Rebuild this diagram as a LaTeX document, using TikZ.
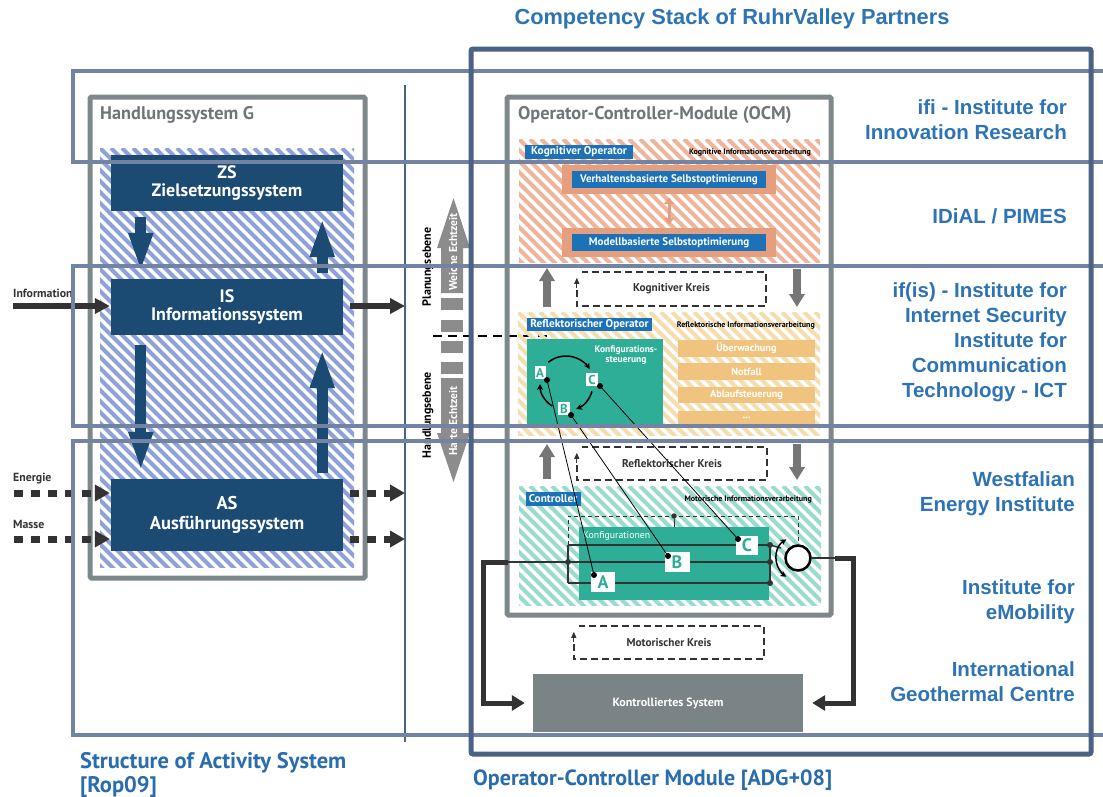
\documentclass[tikz,border=0pt]{standalone}
\usepackage{fontspec}
\setmainfont{PT Sans}
\newfontfamily\arialf{Liberation Sans}
\usetikzlibrary{arrows.meta,calc}
\definecolor{navy}{HTML}{1B4A73}
\definecolor{hatchblue}{HTML}{8FA2D8}
\definecolor{bandc}{HTML}{7383A3}
\definecolor{darkframe}{HTML}{4A6283}
\definecolor{grayframe}{HTML}{7E888B}
\definecolor{graytitle}{HTML}{6F7678}
\definecolor{lblue}{HTML}{1C72B8}
\definecolor{tealbox}{HTML}{2EAE96}
\definecolor{tealhatch}{HTML}{9BDBCD}
\definecolor{salmonhatch}{HTML}{EFB59A}
\definecolor{salmonbox}{HTML}{E59F7E}
\definecolor{orangehatch}{HTML}{F6DDB0}
\definecolor{orangebox}{HTML}{F0C47F}
\definecolor{midgray}{HTML}{8C8C8C}
\definecolor{arrowgray}{HTML}{767676}
\definecolor{instblue}{HTML}{2E74B5}
\definecolor{darkline}{HTML}{333333}
\definecolor{ksys}{HTML}{7A8386}
\definecolor{captblue}{HTML}{2A6DAE}
\newcommand{\fsz}[1]{\fontsize{#1}{#1}\selectfont}
\newcommand{\hatchrect}[5]{%
  \begin{scope}
    \clip (#1,#2) rectangle (#3,#4);
    \foreach \s in {-704,-693,...,420} {\draw[color=#5, line width=4pt] ({#1+\s},#2) -- ++(710,710);}
  \end{scope}}
\tikzset{
  grayframebox/.style={draw=grayframe, line width=5pt, rounded corners=1.5pt, inner sep=0},
  band/.style={draw=bandc, line width=3.5pt},
  navybox/.style={fill=navy, text=white, inner sep=0, align=center, minimum width=232pt},
  navyarr/.style={draw=navy, line width=11pt, -{Triangle[width=22pt,length=40pt]}},
  grayarr/.style={draw=darkline, line width=6pt, -{Triangle[width=15pt,length=15pt]}},
  dgrayarr/.style={draw=darkline, line width=7pt, dash pattern=on 9pt off 8pt, -{Triangle[width=16pt,length=15pt]}},
  smalllbl/.style={text=darkline, font=\bfseries\fsz{11.8}, inner sep=0},
  oplabel/.style={fill=lblue, text=white, font=\bfseries\fsz{11.3}, inner sep=0},
  infotext/.style={anchor=east, inner sep=0, font=\bfseries\fsz{8}, text=black},
  sbox/.style={fill=salmonbox, minimum width=214pt, minimum height=29pt, inner sep=0},
  innerblue/.style={fill=lblue, text=white, font=\bfseries\fsz{11}, minimum width=194pt, minimum height=17pt, inner sep=0},
  vgarr/.style={draw=arrowgray, line width=8pt, -{Triangle[width=15pt,length=13pt]}},
  kreis/.style={draw=darkline, line width=1.8pt, dash pattern=on 7pt off 4pt},
  kreistext/.style={font=\bfseries\fsz{11.3}, text=darkline, inner sep=0},
  smallup/.style={draw=darkline, line width=1.2pt, -{Triangle[width=5pt,length=6pt]}},
  obox/.style={fill=orangebox, text=white, font=\bfseries\fsz{10.3}, minimum width=137pt, inner sep=0},
  letter/.style={fill=white, text=tealbox, font=\bfseries\fsz{13}, inner sep=0},
  bigletter/.style={fill=white, text=tealbox, font=\bfseries\fsz{18}, inner sep=0},
  dot/.style={circle, fill=black, inner sep=0, minimum size=6pt},
  wdot/.style={circle, fill=darkline, inner sep=0, minimum size=6pt},
  wire/.style={draw=darkline, line width=1.5pt},
  cycarr/.style={draw=black, line width=1.5pt, -{Stealth[length=6pt,width=6pt]}},
  thickarr/.style={draw=darkline, line width=5pt, -{Triangle[width=15pt,length=13pt]}},
  inst/.style={anchor=east, align=right, text=instblue, font=\arialf\bfseries\fontsize{20.5}{25}\selectfont, inner sep=0},
  capt/.style={anchor=base west, text=captblue, font=\bfseries\fsz{22.5}, inner sep=0},
}
\begin{document}
\begin{tikzpicture}[x=1pt,y=-1pt]
\fill[white] (0,0) rectangle (1103,796);
\useasboundingbox (0,0) rectangle (1103,796);

% ---------- Left: Handlungssystem G
\node[grayframebox, minimum width=275pt, minimum height=481pt] (hsys) at (227.5,337.5) {};
\node[anchor=west, inner sep=0, text=graytitle, font=\bfseries\fsz{18.3}] (hsystitle) at (100,115) {Handlungssystem G};
\hatchrect{100}{148}{354}{567}{hatchblue}
\node[navybox, minimum height=56pt, font=\bfseries\fontsize{18}{18.5}\selectfont] (zs) at (227,183) {ZS\\Zielsetzungssystem};
\node[navybox, minimum height=56pt, font=\bfseries\fontsize{18}{18.5}\selectfont] (is) at (227,307) {IS\\Informationssystem};
\node[navybox, minimum height=72pt, font=\bfseries\fontsize{18.5}{19.5}\selectfont] (as) at (227,515) {AS\\Ausführungssystem};
\draw[navyarr] ([xshift=30pt,yshift=-6pt]zs.south west) -- ([xshift=30pt,yshift=6pt]is.north west);
\draw[navyarr] ([xshift=-21pt,yshift=6pt]is.north east) -- ([xshift=-21pt,yshift=-6pt]zs.south east);
\draw[navyarr] ([xshift=30pt,yshift=-10pt]is.south west) -- ([xshift=30pt,yshift=7pt]as.north west);
\draw[navyarr] ([xshift=-21pt,yshift=6pt]as.north east) -- ([xshift=-21pt,yshift=-13pt]is.south east);

\coordinate (infoin) at (13,306);
\coordinate (isout) at (405,306);
\coordinate (enin) at (14,493);
\coordinate (enout) at (405,493);
\coordinate (main) at (14,539);
\coordinate (maout) at (405,539);
\node[smalllbl, anchor=base west] (infolbl) at (13,297) {Information};
\node[smalllbl, anchor=base west] (enlbl) at (13,481) {Energie};
\node[smalllbl, anchor=base west] (malbl) at (13,528) {Masse};
\draw[grayarr] (infoin) -- ($(is.west |- infoin)+(-1,0)$);
\draw[grayarr] ($(is.east |- isout)+(7,0)$) -- (isout);
\draw[dgrayarr] (enin) -- ($(as.west |- enin)+(-1,0)$);
\draw[dgrayarr] (main) -- ($(as.west |- main)+(-1,0)$);
\draw[dgrayarr] ($(as.east |- enout)+(7,0)$) -- (enout);
\draw[dgrayarr] ($(as.east |- maout)+(7,0)$) -- (maout);

% ---------- Middle
\draw[darkframe, line width=2pt] (405,85) -- (405,742);
\fill[midgray] (441,293) -- (441,248) -- (437,248) -- (453.5,198) -- (470,248) -- (463,248) -- (463,293) -- cycle;
\foreach \ya in {298,320,341,362} {\fill[midgray] (441,\ya) rectangle (463,{\ya+11.5});}
\fill[midgray] (441,378) -- (441,433) -- (437,433) -- (453.5,482) -- (470,433) -- (463,433) -- (463,378) -- cycle;
\node[rotate=90, text=white, font=\bfseries\fsz{11.5}, inner sep=0] (weich) at (453,252) {Weiche Echtzeit};
\node[rotate=90, text=white, font=\bfseries\fsz{11.5}, inner sep=0] (hart) at (453,421) {Harte Echtzeit};
\node[rotate=90, text=black, font=\bfseries\fsz{12}, inner sep=0] (plan) at (428,267) {Planungsebene};
\node[rotate=90, text=black, font=\bfseries\fsz{12}, inner sep=0] (handl) at (428,415) {Handlungsebene};
\draw[black, line width=2pt, dash pattern=on 9pt off 6pt] (433,336) -- (555,336);

% ---------- OCM
\node[grayframebox, minimum width=324pt, minimum height=518pt] (ocm) at (669,356) {};
\node[anchor=west, inner sep=0, text=graytitle, font=\bfseries\fsz{18.3}] (ocmtitle) at (518,115) {Operator-Controller-Module (OCM)};

% Kognitiver Operator
\hatchrect{519}{139}{820}{262}{salmonhatch}
\node[oplabel, minimum width=108pt, minimum height=14pt] (kogop) at (579,152) {Kognitiver Operator};
\node[infotext] (koginfo) at (811,152) {Kognitive Informationsverarbeitung};
\node[sbox] (vsb) at (669,179.5) {};
\node[innerblue] (vs) at (669,179.5) {Verhaltensbasierte Selbstoptimierung};
\node[sbox] (msb) at (669,242.5) {};
\node[innerblue] (ms) at (669,242.5) {Modellbasierte Selbstoptimierung};
\draw[salmonbox, line width=3pt, {Triangle[width=10pt,length=7pt]}-{Triangle[width=10pt,length=7pt]}] ([yshift=-3pt]vsb.south) -- ([yshift=3pt]msb.north);

% Kognitiver Kreis
\node[minimum width=189pt, minimum height=34pt, inner sep=0] (kk) at (671.5,289) {};
\draw[kreis] ([yshift=-18pt]kk.north west) -- (kk.south west) -- (kk.south east) -- (kk.north east) -- ([xshift=5pt]kk.north west);
\draw[smallup] ([yshift=-16pt]kk.north west) -- ([yshift=-6pt]kk.north west);
\node[kreistext] (kktext) at (kk.center) {Kognitiver Kreis};
\draw[vgarr] (547,307) -- (547,268);
\draw[vgarr] (797,269) -- (797,307);

% Reflektorischer Operator
\hatchrect{518}{312}{820}{435}{orangehatch}
\node[oplabel, minimum width=125pt, minimum height=13pt] (refop) at (589.5,324.5) {Reflektorischer Operator};
\node[infotext] (refinfo) at (815,325) {Reflektorische Informationsverarbeitung};
\node[fill=tealbox, minimum width=136pt, minimum height=85pt, inner sep=0] (konfst) at (595,381.5) {};
\node[text=white, font=\bfseries\fontsize{9.5}{10}\selectfont, align=center, inner sep=0] (konfsttext) at (626,355) {Konfigurations-\\steuerung};
\node[letter, minimum width=11pt, minimum height=13pt] (rA) at (540,372.5) {A};
\node[letter, minimum width=12pt, minimum height=13pt] (rC) at (592,379.5) {C};
\node[letter, minimum width=12pt, minimum height=13pt] (rB) at (564,408.5) {B};
\coordinate (cyc) at (566,384);
\draw[cycarr] ($(cyc)+(-129:28)$) arc[start angle=-129, end angle=-32, radius=28];
\draw[cycarr] ($(cyc)+(16:27)$) arc[start angle=16, end angle=68, radius=27];
\draw[cycarr] ($(cyc)+(122:26)$) arc[start angle=122, end angle=180, radius=26];
\node[obox, minimum height=17pt] (ueb) at (746.5,348.5) {Überwachung};
\node[obox, minimum height=17pt] (notf) at (746.5,371.5) {Notfall};
\node[obox, minimum height=16pt] (ablauf) at (746.5,395) {Ablaufsteuerung};
\node[obox, minimum height=13pt] (more) at (746.5,417.5) {...};

% Reflektorischer Kreis
\node[minimum width=190pt, minimum height=33pt, inner sep=0] (rk) at (672,463.5) {};
\draw[kreis] ([yshift=-18pt]rk.north west) -- (rk.south west) -- (rk.south east) -- (rk.north east) -- ([xshift=5pt]rk.north west);
\draw[smallup] ([yshift=-16pt]rk.north west) -- ([yshift=-6pt]rk.north west);
\node[kreistext] (rktext) at (rk.center) {Reflektorischer Kreis};
\draw[vgarr] (547,479) -- (547,444);
\draw[vgarr] (797,444) -- (797,480);

% Controller
\hatchrect{519}{486}{821}{605}{tealhatch}
\node[oplabel, minimum width=55pt, minimum height=14pt] (ctrl) at (553,498.5) {Controller};
\node[infotext] (ctrlinfo) at (812,499) {Motorische Informationsverarbeitung};
\node[fill=tealbox, minimum width=190pt, minimum height=73pt, inner sep=0] (konf) at (674,563.5) {};
\node[anchor=west, text=white, font=\fsz{9.8}, inner sep=0] (konftext) at (583,536) {Konfigurationen};
\node[circle, draw=black, fill=white, line width=2.5pt, minimum size=25pt, inner sep=0] (sw) at (798,558) {};
\draw[darkline, line width=1pt, dash pattern=on 4pt off 3pt] (568,545) -- (568,516) -- (798,516) -- (sw.north);
\node[wdot, minimum size=5.5pt] (topdot) at (674,516) {};
\draw[darkline, line width=1pt] (topdot) -- (konf.north);
\coordinate (wl1) at (568,545);
\coordinate (wl2) at (568,562);
\coordinate (wl3) at (568,583);
\node[wdot] (wr1) at (770,545) {};
\node[wdot] (wr2) at (770,562) {};
\node[wdot] (wr3) at (770,583) {};
\draw[wire] (wl1) -- (wr1.center);
\draw[wire] (508,562) -- (wr2.center);
\draw[wire] (wl3) -- (wr3.center);
\draw[wire] (wl1) -- (wl3);
\draw[wire] (wr1.center) -- (wr3.center);
\draw[wire] (wr1.center) -- (781,548);
\node[wdot] (wldot) at (wl2) {};
\node[bigletter, minimum width=22pt, minimum height=19pt] (kC) at (747,545) {C};
\node[bigletter, minimum width=25pt, minimum height=20pt] (kB) at (677,562) {B};
\node[bigletter, minimum width=24pt, minimum height=20pt] (kA) at (603,582) {A};
\draw[black, line width=1.5pt, {Stealth[length=6pt,width=6pt]}-{Stealth[length=6pt,width=6pt]}] ($(sw.center)+(238:22)$) arc[start angle=238, end angle=122, radius=22];

% connections operator -> controller
\node[dot] (dA) at (547,380) {};
\node[dot] (dB) at (571,415) {};
\node[dot] (dC) at (600,386) {};
\node[dot] (cA) at (594,575) {};
\node[dot] (cB) at (668,556) {};
\node[dot] (cC) at (738,539) {};
\draw[black, line width=0.8pt] (dA.center) -- (cA.center);
\draw[black, line width=0.8pt] (dB.center) -- (cB.center);
\draw[black, line width=0.8pt] (dC.center) -- (cC.center);

% Motorischer Kreis
\node[minimum width=190pt, minimum height=33pt, inner sep=0] (mk) at (669,642.5) {};
\draw[kreis] ([yshift=-18pt]mk.north west) -- (mk.south west) -- (mk.south east) -- (mk.north east) -- ([xshift=5pt]mk.north west);
\draw[smallup] ([yshift=-16pt]mk.north west) -- ([yshift=-6pt]mk.north west);
\node[kreistext] (mktext) at (mk.center) {Motorischer Kreis};

% Kontrolliertes System
\node[fill=ksys, text=white, font=\bfseries\fsz{12}, minimum width=270pt, minimum height=58pt, inner sep=0] (ks) at (668,703) {Kontrolliertes System};
\draw[thickarr, shorten >=8pt] (508,562) -- (483,562) |- (ks.west);
\draw[darkline, line width=1.2pt] (sw.east) -- (835,558);
\draw[thickarr, shorten >=9pt] (835,558) -- (853,558) |- (ks.east);

% ---------- Bands and outer frame
\draw[band] (73,71) rectangle (1115,162);
\draw[band] (73,266) rectangle (1115,426);
\draw[band] (73,441) rectangle (1115,735);
\draw[darkframe, line width=5pt, rounded corners=2pt] (471,49) rectangle (1091,754);

% ---------- Texts
\node[font=\arialf\bfseries\fsz{21.8}, text=instblue, inner sep=0] (title) at (732,19) {Competency Stack of RuhrValley Partners};
\node[inst] (ifi) at (1067,119.5) {ifi - Institute for\\Innovation Research};
\node[inst] (idial) at (1067,216) {IDiAL / PIMES};
\node[inst] (ifis) at (1067,342.5) {if(is) - Institute for\\Internet Security\\Institute for\\Communication\\Technology - ICT};
\node[inst] (wei) at (1075,494) {Westfalian\\Energy Institute};
\node[inst] (emob) at (1075,601.5) {Institute for\\eMobility};
\node[inst] (igc) at (1075,681.5) {International\hspace{4pt}\\Geothermal Centre};
\node[capt] (capl1) at (80,768) {Structure of Activity System};
\node[capt] (capl2) at (80,792) {[Rop09]};
\node[capt, font=\bfseries\fsz{22}] (capr) at (473,785) {Operator-Controller Module [ADG+08]};
\end{tikzpicture}
\end{document}
